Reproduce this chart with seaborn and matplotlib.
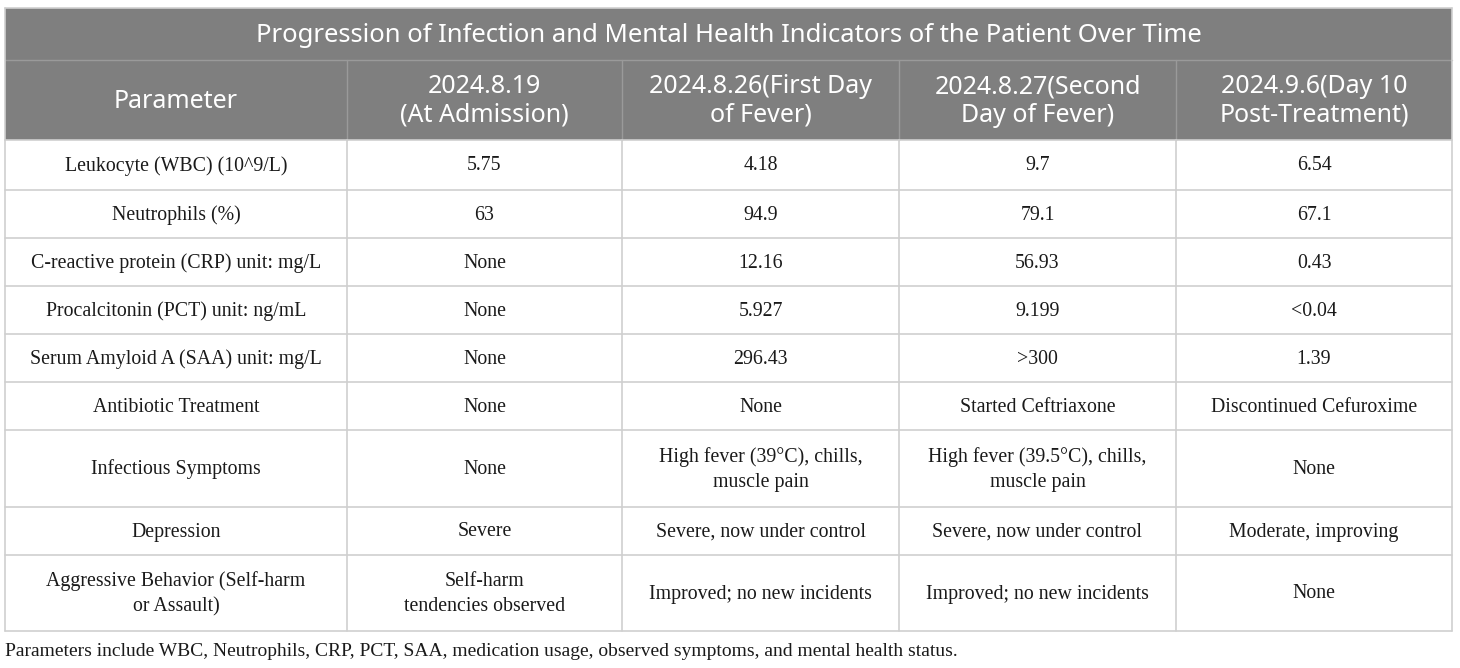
import numpy as np
import pandas as pd
import seaborn as sns
import matplotlib
matplotlib.use("Agg")
import matplotlib.pyplot as plt
from matplotlib.patches import Rectangle

sns.set_theme(style="white")

title = "Progression of Infection and Mental Health Indicators of the Patient Over Time"
headers = ["Parameter", "2024.8.19\n(At Admission)", "2024.8.26(First Day\nof Fever)",
           "2024.8.27(Second\nDay of Fever)", "2024.9.6(Day 10\nPost-Treatment)"]
parameters = ["Leukocyte (WBC) (10^9/L)", "Neutrophils (%)", "C-reactive protein (CRP) unit: mg/L",
              "Procalcitonin (PCT) unit: ng/mL", "Serum Amyloid A (SAA) unit: mg/L",
              "Antibiotic Treatment", "Infectious Symptoms", "Depression",
              "Aggressive Behavior (Self-harm\nor Assault)"]
admission = ["5.75", "63", "None", "None", "None", "None", "None", "Severe",
             "Self-harm\ntendencies observed"]
fever_day1 = ["4.18", "94.9", "12.16", "5.927", "296.43", "None",
              "High fever (39°C), chills,\nmuscle pain", "Severe, now under control",
              "Improved; no new incidents"]
fever_day2 = ["9.7", "79.1", "56.93", "9.199", ">300", "Started Ceftriaxone",
              "High fever (39.5°C), chills,\nmuscle pain", "Severe, now under control",
              "Improved; no new incidents"]
post_treat = ["6.54", "67.1", "0.43", "<0.04", "1.39", "Discontinued Cefuroxime", "None",
              "Moderate, improving", "None"]
caption = ("Parameters include WBC, Neutrophils, CRP, PCT, SAA, medication usage, "
           "observed symptoms, and mental health status.")

df = pd.DataFrame({"p": parameters, "a": admission, "b": fever_day1,
                   "c": fever_day2, "d": post_treat})

# layout in pixels
col_w = [342, 275, 277, 277, 276]
row_h = [50, 48, 48, 48, 48, 48, 77, 48, 76]
x0, y_title, y_head, y_body = 5, 8, 60, 140

col_x = np.concatenate([[x0], x0 + np.cumsum(col_w)])
row_y = np.concatenate([[y_body], y_body + np.cumsum(row_h)])

fig = plt.figure(figsize=(14.6, 6.68), dpi=100)
ax = fig.add_axes([0, 0, 1, 1])
ax.set_xlim(0, 1460)
ax.set_ylim(668, 0)
ax.axis("off")

head_col = "#7f7f7f"
sans = ["Noto Sans", "DejaVu Sans"]
serif = ["Liberation Serif", "DejaVu Serif"]

# title + header block
ax.add_patch(Rectangle((col_x[0], y_title), col_x[-1] - col_x[0], y_body - y_title,
                       facecolor=head_col, edgecolor="none"))
ax.plot([col_x[0], col_x[-1]], [y_head, y_head], color="#9a9a9a", lw=1)
for x in col_x[1:-1]:
    ax.plot([x, x], [y_head, y_body], color="#9a9a9a", lw=1)
ax.text((col_x[0] + col_x[-1]) / 2, (y_title + y_head) / 2 + 1, title, color="white",
        ha="center", va="center", fontsize=18.5, family=sans)
for i, h in enumerate(headers):
    ax.text((col_x[i] + col_x[i + 1]) / 2, (y_head + y_body) / 2 + 1, h, color="white",
            ha="center", va="center", fontsize=18, family=sans, linespacing=1.17)

# body grid
grid = "#cfcfcf"
for y in row_y:
    ax.plot([col_x[0], col_x[-1]], [y, y], color=grid, lw=1.2)
for x in col_x:
    ax.plot([x, x], [y_body, row_y[-1]], color=grid, lw=1.2)
ax.plot([col_x[0], col_x[0]], [y_title, y_body], color=grid, lw=1.2)
ax.plot([col_x[-1], col_x[-1]], [y_title, y_body], color=grid, lw=1.2)
ax.plot([col_x[0], col_x[-1]], [y_title, y_title], color=grid, lw=1.2)

for r, row in df.iterrows():
    yc = (row_y[r] + row_y[r + 1]) / 2 + 1
    for c, val in enumerate(row):
        ax.text((col_x[c] + col_x[c + 1]) / 2, yc, val, color="#1a1a1a",
                ha="center", va="center", fontsize=14.3, family=serif, linespacing=1.42)

ax.text(col_x[0], 651, caption, color="#1a1a1a", ha="left", va="center",
        fontsize=14, family=serif)

fig.savefig("out.png", dpi=100)
